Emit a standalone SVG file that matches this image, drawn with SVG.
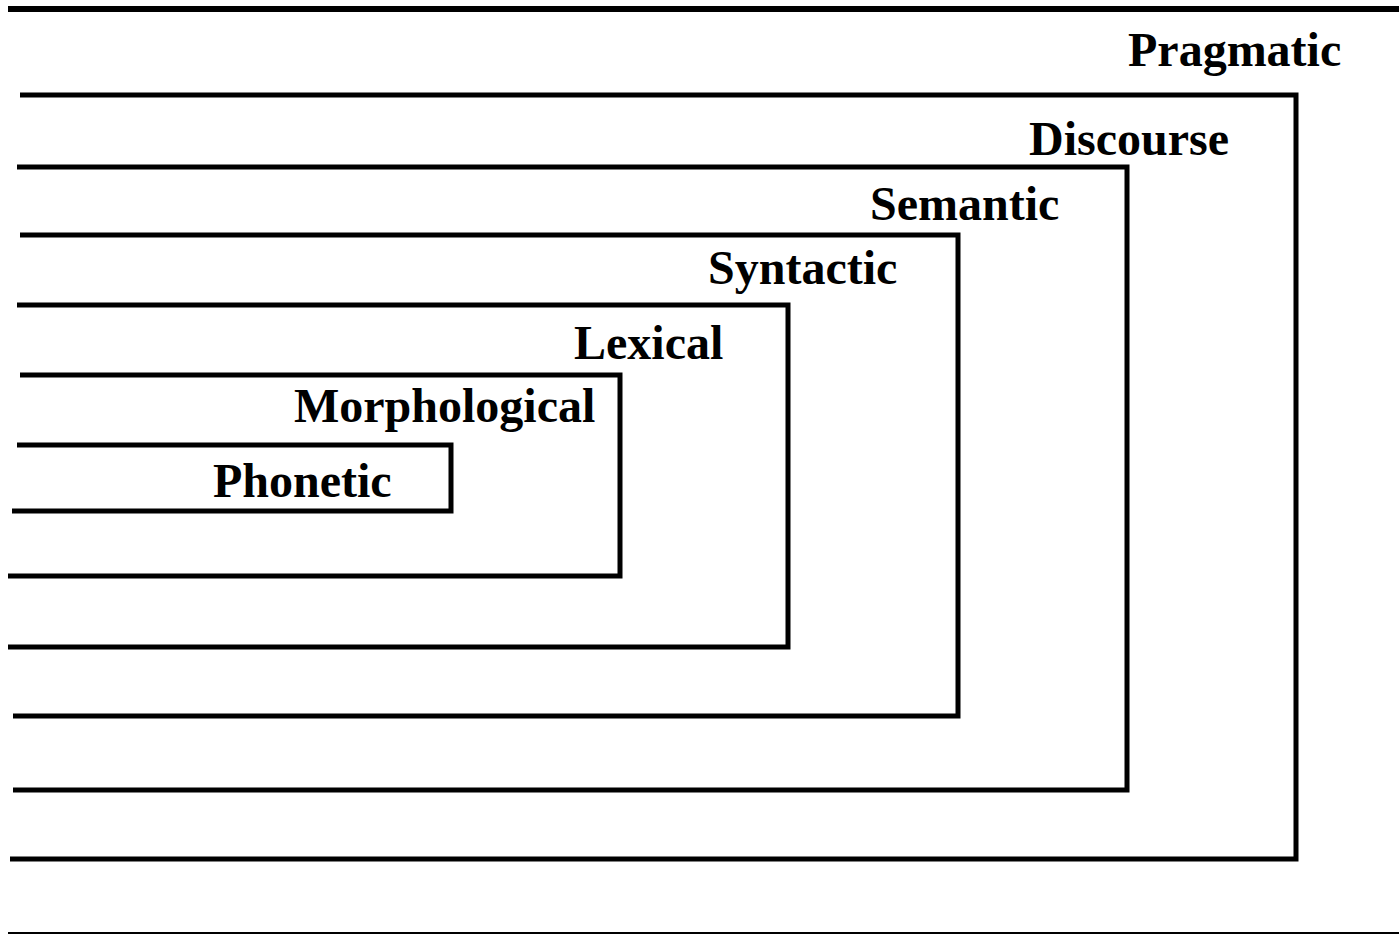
<svg xmlns="http://www.w3.org/2000/svg" width="1399" height="935" viewBox="0 0 1399 935">
<style>
.b{fill:none;stroke:#000;stroke-width:5;stroke-linejoin:miter}
.t{font-family:"Liberation Serif","Times New Roman",serif;font-weight:bold;font-size:48px;fill:#000}
</style>
<rect width="1399" height="935" fill="#fff"/>
<g id="frame">
<rect x="8" y="6" width="1391" height="6" fill="#000"/>
<rect x="8" y="932" width="1391" height="2" fill="#000"/>
</g>
<g id="pragmatic">
<polyline class="b" points="20,95 1296,95 1296,859 10,859"/>
<text class="t" x="1128" y="66">Pragmatic</text>
</g>
<g id="discourse">
<polyline class="b" points="17,167 1127,167 1127,790 13,790"/>
<text class="t" x="1029" y="155">Discourse</text>
</g>
<g id="semantic">
<polyline class="b" points="20,235 958,235 958,716 13,716"/>
<text class="t" x="870" y="220">Semantic</text>
</g>
<g id="syntactic">
<polyline class="b" points="17,305 788,305 788,647 8,647"/>
<text class="t" x="708" y="284">Syntactic</text>
</g>
<g id="lexical">
<polyline class="b" points="20,375 620,375 620,576 8,576"/>
<text class="t" x="574" y="359">Lexical</text>
</g>
<g id="morphological">
<text class="t" x="294" y="422">Morphological</text>
</g>
<g id="phonetic">
<polyline class="b" points="17,445 451,445 451,511 12,511"/>
<text class="t" x="213" y="497">Phonetic</text>
</g>
</svg>
